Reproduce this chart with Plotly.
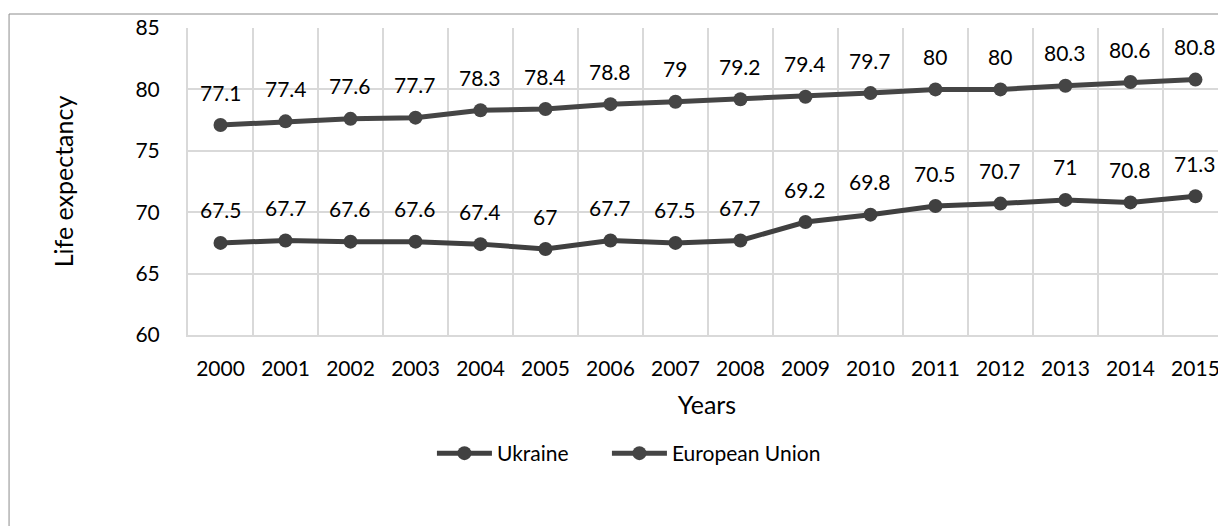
import plotly.graph_objects as go

years = ['2000', '2001', '2002', '2003', '2004', '2005', '2006', '2007',
         '2008', '2009', '2010', '2011', '2012', '2013', '2014', '2015']
ukraine = [67.5, 67.7, 67.6, 67.6, 67.4, 67.0, 67.7, 67.5,
           67.7, 69.2, 69.8, 70.5, 70.7, 71.0, 70.8, 71.3]
eu = [77.1, 77.4, 77.6, 77.7, 78.3, 78.4, 78.8, 79.0,
      79.2, 79.4, 79.7, 80.0, 80.0, 80.3, 80.6, 80.8]
y_ticks = [60, 65, 70, 75, 80, 85]

font = 'Lato'
grid = '#d9d9d9'
xs = list(range(len(years)))

fig = go.Figure()
for name, vals, col, leg in [('Ukraine', ukraine, '#404040', 'legend'),
                             ('European Union', eu, '#454545', 'legend2')]:
    fig.add_trace(go.Scatter(x=xs, y=vals, name=name, mode='lines+markers',
                             line=dict(color=col, width=5),
                             marker=dict(color=col, size=14), legend=leg))
    for x, v in zip(xs, vals):
        fig.add_annotation(x=x, y=v, text=f'{v:g}', showarrow=False,
                           yshift=33, yanchor='middle',
                           font=dict(family=font, size=21, color='#000000'))

# outer chart frame (left and top edges visible)
fig.add_shape(type='path', xref='paper', yref='paper',
              path='M -0.1724 -0.7 L -0.1724 1.0456 L 1.05 1.0456',
              line=dict(color='#8c8c8c', width=1))

# page body adds an 8px offset, so the figure is 8px smaller and margins shifted
leg_style = dict(orientation='h', xanchor='left', y=-0.386, yanchor='middle',
                 itemwidth=55, font=dict(size=21))
fig.update_layout(
    width=1218, height=518,
    margin=dict(l=180, r=0, t=20, b=191, autoexpand=False),
    plot_bgcolor='white', paper_bgcolor='white',
    font=dict(family=font, size=21, color='#000000'),
    showlegend=True,
    legend=dict(x=0.235, **leg_style),
    legend2=dict(x=0.4036, **leg_style),
    xaxis=dict(range=[-0.5, 15.47], tickmode='array', tickvals=xs, ticktext=years,
               showgrid=False, showline=True, linecolor=grid, linewidth=2,
               ticklabelstandoff=14, zeroline=False, automargin=False,
               minor=dict(tick0=-0.5, dtick=1, showgrid=True, gridcolor=grid, gridwidth=2),
               title=dict(text='Years', standoff=17)),
    yaxis=dict(range=[60, 85], tickvals=y_ticks, showgrid=True, gridcolor=grid, gridwidth=2,
               showline=True, linecolor=grid, linewidth=2, zeroline=False,
               ticklabelstandoff=22, automargin=False,
               title=dict(text='Life expectancy', standoff=55)),
)

fig.write_html('out.html')
